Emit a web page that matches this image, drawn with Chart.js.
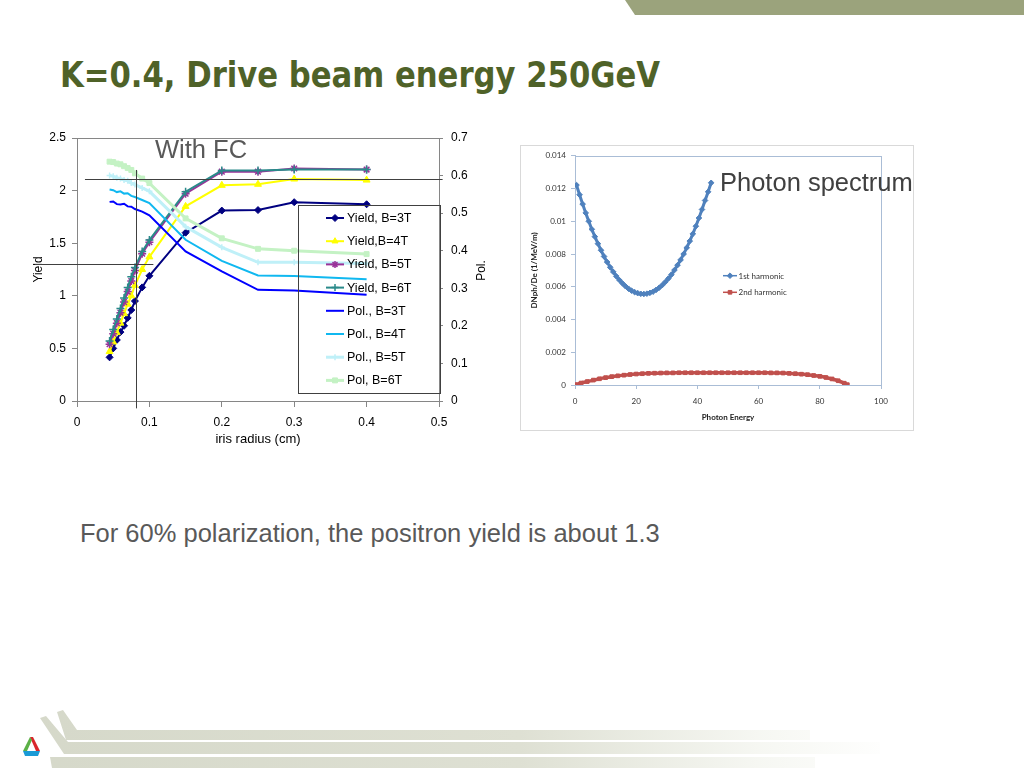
<!DOCTYPE html>
<html>
<head>
<meta charset="utf-8">
<title>K=0.4, Drive beam energy 250GeV</title>
<script src="https://cdn.jsdelivr.net/npm/chart.js@4.4.1/dist/chart.umd.min.js"></script>
<style>
  html, body { margin: 0; padding: 0; background: #fff; }
  #slide { position: relative; width: 1024px; height: 768px; overflow: hidden; background: #fff;
           font-family: "Liberation Sans", Arial, sans-serif; }
  .abs { position: absolute; }
  #topband { left: 625px; top: 0; width: 399px; height: 15px; background: #9ba37c;
             clip-path: polygon(0 0, 100% 0, 100% 100%, 10px 100%); }
  #title { left: 60px; top: 58px; font: bold 35px "DejaVu Sans Condensed", "DejaVu Sans", sans-serif;
           color: #4f6228; line-height: 1; white-space: nowrap; transform-origin: 0 0; }
  .note { font-size: 25.5px; line-height: 1; white-space: nowrap; z-index: 5; }
  #withfc { left: 155px; top: 137px; color: #595959; }
  #photon { left: 720px; top: 170px; color: #404040; }
  #remark { left: 80px; top: 521px; color: #595959; }
  #left-wrap { left: 0; top: 120px; width: 500px; height: 340px; }
  #right-frame { left: 520px; top: 145px; width: 394px; height: 286px; box-sizing: border-box;
                 border: 1px solid #d9d9d9; background: #fff; }
  #right-wrap { position: relative; width: 392px; height: 284px; }
  .stripe { left: 0; top: 0; width: 1024px; height: 768px;
            background: linear-gradient(to right, #d5d8c9 0px, #dee0d3 520px, rgba(240,242,234,0.6) 760px, rgba(255,255,255,0) 900px); }
  #s1 { clip-path: polygon(57px 712px, 63px 710px, 77px 730px, 810px 730px, 810px 740px, 66px 740px); }
  #s2 { clip-path: polygon(40px 718px, 46px 716px, 68px 742px, 880px 742px, 880px 754px, 64px 754px); }
  #s3 { clip-path: polygon(50px 757px, 815px 757px, 815px 768px, 52px 768px); }
  #logo { left: 21px; top: 737px; }
</style>
</head>
<body>
<div id="slide">
  <div id="topband" class="abs"></div>
  <div id="title" class="abs">K=0.4, Drive beam energy 250GeV</div>

  <div id="left-wrap" class="abs"><canvas id="yield-chart"></canvas></div>
  <div id="right-frame" class="abs"><div id="right-wrap"><canvas id="spectrum-chart"></canvas></div></div>

  <div id="withfc" class="abs note">With FC</div>
  <div id="photon" class="abs note">Photon spectrum</div>
  <div id="remark" class="abs note">For 60% polarization, the positron yield is about 1.3</div>

  <div id="s1" class="abs stripe"></div>
  <div id="s2" class="abs stripe"></div>
  <div id="s3" class="abs stripe"></div>
  <svg id="logo" class="abs" width="21" height="21" viewBox="0 0 21 21">
    <polygon points="9,0 12,0 19,14 15,14" fill="#d9262b"/>
    <polygon points="9,0 11,3 6,14 2,14" fill="#5bb046"/>
    <polygon points="2,14 19,14 17,19 4,19" fill="#1a9ad6"/>
  </svg>
</div>

<script>
'use strict';

/* ---- Left chart: yield and polarisation vs iris radius ---- */
const irisRadius = [0.045, 0.05, 0.055, 0.06, 0.065, 0.07, 0.075, 0.08, 0.09, 0.1, 0.15, 0.2, 0.25, 0.3, 0.4];

const yieldB3 = [0.415, 0.50, 0.58, 0.655, 0.715, 0.79, 0.865, 0.95, 1.08, 1.19, 1.60, 1.81, 1.815, 1.89, 1.87];
const yieldB4 = [0.47, 0.56, 0.65, 0.74, 0.83, 0.92, 1.00, 1.10, 1.25, 1.37, 1.85, 2.05, 2.06, 2.11, 2.10];
const yieldB5 = [0.54, 0.64, 0.74, 0.84, 0.94, 1.04, 1.14, 1.24, 1.40, 1.51, 1.97, 2.18, 2.18, 2.21, 2.20];
const yieldB6 = [0.57, 0.68, 0.78, 0.88, 0.98, 1.08, 1.18, 1.27, 1.42, 1.53, 1.99, 2.19, 2.19, 2.20, 2.20];

const polB3 = [0.530, 0.531, 0.524, 0.523, 0.525, 0.518, 0.517, 0.511, 0.504, 0.494, 0.398, 0.345, 0.296, 0.294, 0.283];
const polB4 = [0.563, 0.561, 0.556, 0.558, 0.552, 0.553, 0.546, 0.543, 0.535, 0.527, 0.429, 0.373, 0.334, 0.333, 0.324];
const polB5 = [0.600, 0.598, 0.594, 0.592, 0.588, 0.586, 0.580, 0.576, 0.567, 0.558, 0.464, 0.409, 0.369, 0.369, 0.366];
const polB6 = [0.637, 0.636, 0.632, 0.630, 0.625, 0.620, 0.615, 0.606, 0.592, 0.580, 0.486, 0.433, 0.405, 0.400, 0.391];

const leftLabels = ['Yield, B=3T', 'Yield,B=4T', 'Yield, B=5T', 'Yield, B=6T',
                    'Pol., B=3T', 'Pol., B=4T', 'Pol., B=5T', 'Pol, B=6T'];
const leftValues = [yieldB3, yieldB4, yieldB5, yieldB6, polB3, polB4, polB5, polB6];

const radiusTicks = [0, 0.5, 0.1];   // min, max, step
const yieldTicks  = [0, 2.5, 0.5];
const polTicks    = [0, 0.7, 0.1];

// guide lines drawn on the slide: 60% polarisation -> yield 1.3
const polGuide    = 0.59;
const yieldGuide  = 1.3;
const radiusGuide = 0.0815;

/* ---- Right chart: photon spectrum ---- */
const energy1 = [0.5, 1.5, 2.5, 3.5, 4.5, 5.5, 6.5, 7.5, 8.5, 9.5, 10.5, 11.5, 12.5, 13.5, 14.5,
                 15.5, 16.5, 17.5, 18.5, 19.5, 20.5, 21.5, 22.5, 23.5, 24.5, 25.5, 26.5, 27.5, 28.5, 29.5,
                 30.5, 31.5, 32.5, 33.5, 34.5, 35.5, 36.5, 37.5, 38.5, 39.5, 40.5, 41.5, 42.5, 43.5, 44.5];
const harmonic1 = [0.01221, 0.01162, 0.01105, 0.01051, 0.01000, 0.00951, 0.00906, 0.00863, 0.00823, 0.00785,
                   0.00751, 0.00719, 0.00691, 0.00664, 0.00641, 0.00621, 0.00603, 0.00588, 0.00576, 0.00567,
                   0.00561, 0.00557, 0.00556, 0.00558, 0.00563, 0.00570, 0.00581, 0.00594, 0.00610, 0.00629,
                   0.00650, 0.00674, 0.00702, 0.00732, 0.00764, 0.00800, 0.00838, 0.00879, 0.00923, 0.00970,
                   0.01020, 0.01072, 0.01127, 0.01180, 0.01235];

const energy2 = [0, 2, 4, 6, 8, 10, 12, 14, 16, 18, 20, 22, 24, 26, 28, 30, 32, 34, 36, 38, 40, 42, 44,
                 46, 48, 50, 52, 54, 56, 58, 60, 62, 64, 66, 68, 70, 72, 74, 76, 78, 80, 82, 84, 86, 88, 89];
const harmonic2 = [0.00002, 0.00012, 0.00021, 0.00030, 0.00038, 0.00045, 0.00051, 0.00056, 0.00060, 0.00064,
                   0.00067, 0.00069, 0.00071, 0.00072, 0.00073, 0.00074, 0.00074, 0.00075, 0.00075, 0.00075,
                   0.00075, 0.00075, 0.00075, 0.00075, 0.00075, 0.00075, 0.00075, 0.00075, 0.00075, 0.00075,
                   0.00075, 0.00075, 0.00074, 0.00074, 0.00073, 0.00071, 0.00069, 0.00066, 0.00063, 0.00058,
                   0.00053, 0.00046, 0.00037, 0.00026, 0.00011, 0.00002];

const spectrumLabels = ['1st harmonic', '2nd harmonic'];
const energyTicks   = [0, 100, 20];
const spectrumTicks = [0, 0.014, 0.002];

/* ---- Styles ---- */
const SANS  = '"Liberation Sans", Arial, sans-serif';
const LATO  = 'Lato, "Open Sans", sans-serif';
const GREY  = '#868686';
const PALE_AXIS = '#aabdd6';

const leftStyles = [
  { color: '#000080', point: 'rectRot',  r: 3.5, w: 2,   axis: 'y'  },
  { color: '#ffff00', point: 'triangle', r: 4,   w: 2,   axis: 'y'  },
  { color: '#993399', point: 'star',     r: 4,   w: 2,   axis: 'y'  },
  { color: '#2a8a8a', point: 'cross',    r: 4,   w: 2,   axis: 'y'  },
  { color: '#0000ff', point: 'circle',   r: 0,   w: 2,   axis: 'y1' },
  { color: '#10b8f0', point: 'circle',   r: 0,   w: 2,   axis: 'y1' },
  { color: '#bff0f8', point: 'cross',    r: 3,   w: 3,   axis: 'y1' },
  { color: '#c4f2c4', point: 'rect',     r: 3.5, w: 3,   axis: 'y1' },
];

const spectrumStyles = [
  { color: '#4f81bd', point: 'rectRot', r: 2.8, w: 3 },
  { color: '#c0504d', point: 'rect',    r: 2.6, w: 3.5 },
];

/* ============================================================
   Helpers
   ============================================================ */
const toXY = (xs, ys) => xs.map((x, i) => ({ x, y: ys[i] }));
const fmtTick = v => String(parseFloat(Number(v).toFixed(6)));
const crisp = v => Math.round(v) + 0.5;

function strokeLine(ctx, x0, y0, x1, y1) {
  ctx.beginPath();
  ctx.moveTo(x0, y0);
  ctx.lineTo(x1, y1);
  ctx.stroke();
}

/** Line sample + marker for a hand-drawn legend entry */
function legendSample(ctx, ds, x0, x1, y, lineW) {
  ctx.strokeStyle = ds.borderColor;
  ctx.lineWidth = lineW || ds.borderWidth;
  strokeLine(ctx, x0, y, x1, y);
  if (ds.pointRadius > 0) {
    ctx.fillStyle = ds.pointBackgroundColor;
    ctx.strokeStyle = ds.pointBorderColor;
    ctx.lineWidth = ds.pointBorderWidth;
    Chart.helpers.drawPoint(ctx, {
      pointStyle: ds.pointStyle, radius: Math.min(ds.pointRadius, 3.5),
      borderWidth: ds.pointBorderWidth, rotation: 0,
    }, (x0 + x1) / 2, y);
  }
}

function fixedSize(prop, px) {
  return scale => { scale[prop] = px; };
}

Chart.defaults.font.family = SANS;
Chart.defaults.animation = false;

/* ============================================================
   Left chart
   ============================================================ */
const leftDecor = {
  id: 'leftDecor',
  beforeDatasetsDraw(chart) {
    const { ctx, chartArea: a } = chart;
    ctx.save();
    ctx.strokeStyle = GREY;
    ctx.lineWidth = 1;
    strokeLine(ctx, a.left, crisp(a.top), a.right, crisp(a.top));
    ctx.restore();
  },
  afterDatasetsDraw(chart) {
    const { ctx, scales: { x, y, y1 } } = chart;
    ctx.save();
    ctx.strokeStyle = '#404040';
    ctx.lineWidth = 1;
    const hp = crisp(y1.getPixelForValue(polGuide));
    strokeLine(ctx, x.getPixelForValue(0.011), hp, x.getPixelForValue(0.505), hp);
    const hy = crisp(y.getPixelForValue(yieldGuide));
    strokeLine(ctx, x.getPixelForValue(-0.058), hy, x.getPixelForValue(0.1055), hy);
    const vx = crisp(x.getPixelForValue(radiusGuide));
    strokeLine(ctx, vx, y.getPixelForValue(2.196), vx, y.getPixelForValue(-0.07));
    ctx.restore();
  },
  afterDraw(chart) {
    const { ctx, chartArea: a } = chart;
    ctx.save();
    // legend box
    const bx = a.right - 141, by = a.top + 67, bw = 142, bh = 188;
    ctx.strokeStyle = '#404040';
    ctx.lineWidth = 1;
    ctx.strokeRect(crisp(bx), crisp(by), bw, bh);
    ctx.font = `12.5px ${SANS}`;
    ctx.textBaseline = 'middle';
    chart.data.datasets.forEach((ds, i) => {
      const ly = by + 13 + i * 23.2;
      legendSample(ctx, ds, bx + 28, bx + 46, ly);
      ctx.fillStyle = '#000';
      ctx.fillText(ds.label, bx + 49, ly + 0.5);
    });
    // secondary axis title, rotated like the primary one
    ctx.translate(a.right + 43, (a.top + a.bottom) / 2 + 1);
    ctx.rotate(-Math.PI / 2);
    ctx.textAlign = 'center';
    ctx.fillStyle = '#000';
    ctx.font = `12px ${SANS}`;
    ctx.fillText('Pol.', 0, 0);
    ctx.restore();
  },
};

new Chart(document.getElementById('yield-chart'), {
  type: 'line',
  data: {
    datasets: leftValues.map((vals, i) => {
      const s = leftStyles[i];
      return {
        label: leftLabels[i],
        data: toXY(irisRadius, vals),
        yAxisID: s.axis,
        borderColor: s.color,
        backgroundColor: s.color,
        borderWidth: s.w,
        pointStyle: s.point,
        pointRadius: s.r,
        pointBackgroundColor: s.color,
        pointBorderColor: s.color,
        pointBorderWidth: s.point === 'star' || s.point === 'cross' ? 1.5 : 1,
        tension: 0,
        fill: false,
        order: 10 - i,
      };
    }),
  },
  options: {
    responsive: true,
    maintainAspectRatio: false,
    layout: { padding: { top: 18, left: 0, right: 0, bottom: 0 } },
    plugins: { legend: { display: false }, tooltip: { enabled: false } },
    scales: {
      x: {
        type: 'linear',
        min: radiusTicks[0], max: radiusTicks[1],
        ticks: { stepSize: radiusTicks[2], callback: fmtTick, color: '#000', font: { size: 12 }, padding: 8 },
        grid: { drawOnChartArea: false, tickLength: 6, color: GREY },
        border: { color: GREY },
        title: { display: true, text: 'iris radius (cm)', color: '#000', font: { size: 13 }, padding: { top: 0, bottom: 13 } },
        afterFit: fixedSize('height', 59),
      },
      y: {
        position: 'left',
        min: yieldTicks[0], max: yieldTicks[1],
        ticks: { stepSize: yieldTicks[2], callback: fmtTick, color: '#000', font: { size: 12 }, padding: 6 },
        grid: { drawOnChartArea: false, tickLength: 5, color: GREY },
        border: { color: GREY },
        title: { display: true, text: 'Yield', color: '#000', font: { size: 12 }, padding: { top: 31, bottom: 0 } },
        afterFit: fixedSize('width', 77),
      },
      y1: {
        position: 'right',
        min: polTicks[0], max: polTicks[1],
        ticks: { stepSize: polTicks[2], callback: fmtTick, color: '#000', font: { size: 12 }, padding: 8 },
        grid: { drawOnChartArea: false, tickLength: 4, color: GREY },
        border: { color: GREY },
        afterFit: fixedSize('width', 61),
      },
    },
  },
  plugins: [leftDecor],
});

/* ============================================================
   Right chart — photon spectrum
   ============================================================ */
const spectrumDecor = {
  id: 'spectrumDecor',
  beforeDatasetsDraw(chart) {
    const { ctx, chartArea: a } = chart;
    ctx.save();
    ctx.strokeStyle = PALE_AXIS;
    ctx.lineWidth = 1;
    ctx.strokeRect(crisp(a.left), crisp(a.top), Math.round(a.right - a.left), Math.round(a.bottom - a.top));
    ctx.restore();
  },
  afterDraw(chart) {
    const { ctx } = chart;
    ctx.save();
    ctx.font = `8px ${LATO}`;
    ctx.textBaseline = 'middle';
    chart.data.datasets.forEach((ds, i) => {
      const ly = 129.7 + i * 16.6;
      legendSample(ctx, ds, 202, 216, ly, 1.5);
      ctx.fillStyle = '#333';
      ctx.fillText(ds.label, 217.5, ly + 0.5);
    });
    ctx.restore();
  },
};

new Chart(document.getElementById('spectrum-chart'), {
  type: 'line',
  data: {
    datasets: [[energy1, harmonic1], [energy2, harmonic2]].map(([xs, ys], i) => {
      const s = spectrumStyles[i];
      return {
        label: spectrumLabels[i],
        data: toXY(xs, ys),
        borderColor: s.color,
        backgroundColor: s.color,
        borderWidth: s.w,
        pointStyle: s.point,
        pointRadius: s.r,
        pointBackgroundColor: s.color,
        pointBorderColor: s.color,
        pointBorderWidth: 1,
        tension: 0.3,
        fill: false,
      };
    }),
  },
  options: {
    responsive: true,
    maintainAspectRatio: false,
    layout: { padding: { top: 8, left: 0, right: 32, bottom: 0 } },
    plugins: { legend: { display: false }, tooltip: { enabled: false } },
    scales: {
      x: {
        type: 'linear',
        min: energyTicks[0], max: energyTicks[1],
        ticks: { stepSize: energyTicks[2], callback: fmtTick, color: '#333', font: { family: LATO, size: 8 }, padding: 8 },
        grid: { drawOnChartArea: false, tickLength: 4, color: PALE_AXIS },
        border: { color: PALE_AXIS },
        title: { display: true, text: 'Photon Energy', color: '#222', font: { family: LATO, size: 8, weight: 'bold' }, padding: { top: 0, bottom: 8 } },
        afterFit: fixedSize('height', 45),
      },
      y: {
        min: spectrumTicks[0], max: spectrumTicks[1],
        ticks: { stepSize: spectrumTicks[2], callback: fmtTick, color: '#333', font: { family: LATO, size: 8 }, padding: 5 },
        grid: { drawOnChartArea: false, tickLength: 4, color: PALE_AXIS },
        border: { color: PALE_AXIS },
        title: { display: true, text: 'DNph/De (1/MeV/m)', color: '#222', font: { family: LATO, size: 8, weight: 'bold' }, padding: { top: 9, bottom: 0 } },
        afterFit: fixedSize('width', 54),
      },
    },
  },
  plugins: [spectrumDecor],
});

/* ---- Fit the slide title to its original width ---- */
const titleEl = document.getElementById('title');
const titleW = titleEl.getBoundingClientRect().width;
if (titleW > 0) titleEl.style.transform = `scaleX(${600 / titleW})`;
</script>
</body>
</html>
